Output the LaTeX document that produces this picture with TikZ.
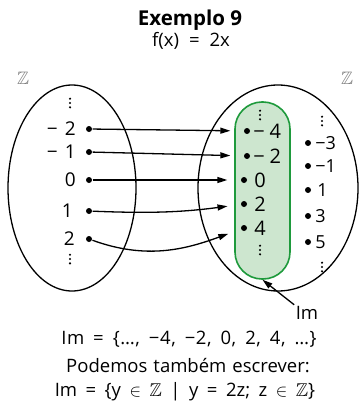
\documentclass[tikz,border=0pt]{standalone}
\usepackage{amssymb}
\usepackage{fontspec}
\setmainfont{Open Sans}
\usetikzlibrary{arrows.meta, positioning}
\definecolor{cgreen}{HTML}{1E9A3C}
\definecolor{cmint}{HTML}{CDE6CF}
\definecolor{cgrey}{HTML}{7A7A7A}
\newcommand{\wsp}[1]{\spaceskip=#1\relax}
\tikzset{
  every picture/.style={x=1pt, y=1pt, line width=1.3pt},
  elem/.style={circle, fill, inner sep=0pt, minimum size=6pt},
  numl/.style={font=\fontsize{19}{22}\selectfont\wsp{7pt}, inner sep=1pt},
  numg/.style={font=\fontsize{20}{22}\selectfont\wsp{5pt}, inner sep=1pt},
  numo/.style={font=\fontsize{18}{20}\selectfont, inner sep=1pt},
  txt/.style={font=\fontsize{18.5}{22}\selectfont\wsp{6pt}, inner sep=1pt},
  arrow/.style={-{Triangle[length=10pt, width=6pt]}, line width=1.3pt, shorten >=13pt},
  vdts/.pic={\foreach \k in {-1,0,1} \fill (0,\k*4.3) circle[radius=1.2pt];},
}

\begin{document}
\begin{tikzpicture}
  \useasboundingbox (0,0) rectangle (363,-404);
  % titles
  \node[txt, font=\fontsize{20.5}{22}\selectfont\bfseries] (title) at (190,-20) {Exemplo 9};
  \node[txt, font=\fontsize{18.5}{22}\selectfont\wsp{10pt}] (rule) at (191,-41) {f(x) = 2x};
  \node[text=cgrey, font=\fontsize{18}{20}\selectfont] (zl) at (23,-78) {$\mathbb{Z}$};
  \node[text=cgrey, font=\fontsize{18}{20}\selectfont] (zr) at (347,-78) {$\mathbb{Z}$};
  % sets
  \draw (72,-188) ellipse [x radius=64pt, y radius=103pt];
  \draw (278,-188) ellipse [x radius=80pt, y radius=103pt];
  \node[draw=cgreen, fill=cmint, line width=1.6pt, rounded corners=27pt,
    minimum width=55pt, minimum height=177pt] (img) at (262.5,-190.5) {};
  % domain
  \node[elem] (a-2) at (89,-129) {};
  \node[elem] (a-1) at (89,-152) {};
  \node[elem] (a0) at (89,-180) {};
  \node[elem] (a1) at (89,-211) {};
  \node[elem] (a2) at (89,-239) {};
  \node[numl, left=8pt of a-2] {− 2};
  \node[numl, left=8pt of a-1] {− 1};
  \node[numl, left=8pt of a0] {0};
  \node[numl, left=11pt of a1] {1};
  \node[numl, left=9pt of a2] {2};
  \pic at (70,-103) {vdts};
  \pic at (70,-259) {vdts};
  % image
  \node[elem] (b-4) at (247,-131) {};
  \node[elem] (b-2) at (247,-156) {};
  \node[elem] (b0) at (244,-180) {};
  \node[elem] (b2) at (244,-204) {};
  \node[elem] (b4) at (244,-228) {};
  \node[numg, right=1pt of b-4] {− 4};
  \node[numg, right=1pt of b-2] {− 2};
  \node[numg, right=5pt of b0] {0};
  \node[numg, right=5pt of b2] {2};
  \node[numg, right=5pt of b4] {4};
  \pic at (260,-115) {vdts};
  \pic at (260,-250) {vdts};
  % odd numbers
  \node[elem] (c-3) at (308,-143) {};
  \node[elem] (c-1) at (308,-166) {};
  \node[elem] (c1) at (308,-190) {};
  \node[elem] (c3) at (308,-216) {};
  \node[elem] (c5) at (308,-242) {};
  \node[numo, right=2pt of c-3] {−3};
  \node[numo, right=2pt of c-1] {−1};
  \node[numo, right=4pt of c1] {1};
  \node[numo, right=2pt of c3] {3};
  \node[numo, right=2pt of c5] {5};
  \pic at (322,-121) {vdts};
  \pic at (322,-267) {vdts};
  % mapping
  \draw[arrow] (a-2) -- (b-4);
  \draw[arrow] (a-1) -- (b-2);
  \draw[arrow] (a0) -- (b0);
  \draw[arrow] (a1) to[bend right=5] (b2);
  \draw[arrow] (a2) to[out=-20, in=200] (b4);
  \node[txt] (im) at (307,-313) {Im};
  \draw[-{Triangle[length=10pt, width=6pt]}] (im.north west) -- (img.south);
  % bottom text
  \node[txt, font=\fontsize{18.5}{22}\selectfont\addfontfeatures{LetterSpace=3}\wsp{9pt}]
    (set) at (189,-339) {Im = \{…, −4, −2, 0, 2, 4, …\}};
  \node[txt] (also) at (188,-366) {Podemos também escrever:};
  \node[txt, font=\fontsize{18.5}{22}\selectfont\wsp{8.5pt}]
    (rule2) at (185,-392) {Im = \{y $\in$ $\mathbb{Z}$ | y = 2z; z $\in$ $\mathbb{Z}$\}};
\end{tikzpicture}
\end{document}
